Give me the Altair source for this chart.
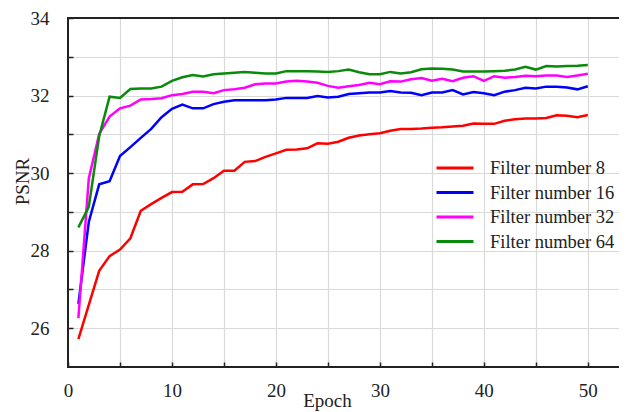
import altair as alt
import pandas as pd

FONT = "Liberation Serif"

epochs = list(range(1, 51))
series_names = ["Filter number 8", "Filter number 16", "Filter number 32", "Filter number 64"]
colors = ["#ff0000", "#0000ff", "#ff00ff", "#0a8a0a"]

psnr_8 = [25.72, 26.60, 27.48, 27.86, 28.03, 28.32, 29.03, 29.20, 29.36, 29.51,
          29.52, 29.71, 29.72, 29.87, 30.06, 30.06, 30.29, 30.31, 30.42, 30.51,
          30.60, 30.61, 30.64, 30.77, 30.76, 30.81, 30.91, 30.97, 31.00, 31.03,
          31.09, 31.14, 31.14, 31.15, 31.17, 31.18, 31.20, 31.22, 31.28, 31.27,
          31.27, 31.35, 31.39, 31.41, 31.41, 31.42, 31.49, 31.48, 31.44, 31.50]
psnr_16 = [26.63, 28.74, 29.71, 29.79, 30.44, 30.67, 30.91, 31.14, 31.44, 31.66,
           31.77, 31.67, 31.67, 31.78, 31.84, 31.88, 31.88, 31.88, 31.88, 31.90,
           31.94, 31.94, 31.94, 31.99, 31.95, 31.97, 32.04, 32.06, 32.08, 32.08,
           32.12, 32.08, 32.07, 32.01, 32.08, 32.08, 32.14, 32.03, 32.09, 32.06,
           32.01, 32.10, 32.14, 32.20, 32.18, 32.23, 32.23, 32.21, 32.16, 32.24]
psnr_32 = [26.26, 29.86, 31.01, 31.46, 31.67, 31.74, 31.90, 31.91, 31.93, 32.01,
           32.04, 32.10, 32.10, 32.06, 32.14, 32.16, 32.20, 32.29, 32.31, 32.31,
           32.36, 32.38, 32.36, 32.33, 32.25, 32.20, 32.24, 32.27, 32.33, 32.29,
           32.37, 32.36, 32.42, 32.45, 32.38, 32.43, 32.37, 32.46, 32.50, 32.38,
           32.50, 32.46, 32.48, 32.51, 32.50, 32.52, 32.52, 32.48, 32.52, 32.56]
psnr_64 = [28.60, 29.13, 30.95, 31.97, 31.94, 32.17, 32.18, 32.18, 32.23, 32.38,
           32.47, 32.53, 32.49, 32.55, 32.57, 32.59, 32.61, 32.59, 32.57, 32.57,
           32.63, 32.63, 32.63, 32.62, 32.61, 32.63, 32.67, 32.60, 32.55, 32.55,
           32.61, 32.57, 32.60, 32.68, 32.70, 32.69, 32.67, 32.62, 32.62, 32.62,
           32.63, 32.64, 32.67, 32.74, 32.67, 32.76, 32.75, 32.76, 32.77, 32.79]

x_ticks = list(range(0, 51, 5))
y_ticks = list(range(26, 35))

rows = []
for name, vals in zip(series_names, [psnr_8, psnr_16, psnr_32, psnr_64]):
    for e, v in zip(epochs, vals):
        rows.append({"Epoch": e, "PSNR": v, "Series": name})
df = pd.DataFrame(rows)

W, H = 551, 349

x_axis = alt.Axis(
    values=x_ticks,
    labelExpr="datum.value % 10 === 0 ? datum.label : ''",
    grid=True, gridColor="#d9d9d9", gridWidth=1.2,
    domain=False, offset=-5, tickSize=5, tickWidth=1.5, tickColor="#222",
    labelPadding=14, labelFontSize=19, labelFont=FONT, labelColor="#222",
    labelAngle=0, labelFlush=False,
    title="Epoch", titleX=259, titleY=44, titleBaseline="alphabetic",
    titleAlign="center", titleFontSize=19, titleFont=FONT,
    titleFontWeight="normal", titleColor="#222",
)
y_axis = alt.Axis(
    values=y_ticks,
    labelExpr="datum.value % 2 === 0 ? datum.label : ''",
    grid=True, gridColor="#d9d9d9", gridWidth=1.2,
    domain=False, offset=-5, tickSize=5, tickWidth=1.5, tickColor="#222",
    labelPadding=19, labelFontSize=19, labelFont=FONT, labelColor="#222",
    labelFlush=False,
    title="PSNR", titleX=-51, titleY=163, titleBaseline="middle",
    titleAlign="center", titleFontSize=19, titleFont=FONT,
    titleFontWeight="normal", titleColor="#222",
)

lines = alt.Chart(df).mark_line(strokeWidth=2.5, clip=True).encode(
    x=alt.X("Epoch:Q", scale=alt.Scale(domain=[0, 53], nice=False, zero=False), axis=x_axis),
    y=alt.Y("PSNR:Q", scale=alt.Scale(domain=[25, 34], nice=False, zero=False), axis=y_axis),
    color=alt.Color(
        "Series:N",
        scale=alt.Scale(domain=series_names, range=colors),
        sort=series_names,
        legend=alt.Legend(
            orient="none", legendX=376, legendY=139, title=None,
            symbolType="M-2,0H2", symbolSize=342, symbolStrokeWidth=3,
            labelFontSize=18.5, labelFont=FONT, labelColor="#222",
            labelOffset=24, rowPadding=3.5, padding=0, labelLimit=300,
        ),
    ),
)

frame_src = pd.DataFrame({"k": [0]})
frame_style = dict(color="#222", strokeWidth=2, strokeCap="square")
left_border = alt.Chart(frame_src).mark_rule(**frame_style).encode(
    x=alt.value(0), y=alt.value(0), y2=alt.value(H))
top_border = alt.Chart(frame_src).mark_rule(**frame_style).encode(
    x=alt.value(0), x2=alt.value(W), y=alt.value(0))
bottom_border = alt.Chart(frame_src).mark_rule(**frame_style).encode(
    x=alt.value(0), x2=alt.value(W), y=alt.value(H))

chart = alt.layer(lines, left_border, top_border, bottom_border).properties(
    width=W, height=H,
    padding={"left": 60, "top": 10, "right": 0, "bottom": 50},
    autosize=alt.AutoSizeParams(type="none"),
).configure_view(
    stroke=None,
).configure(background="white")

chart.save("out.html", embed_options={"renderer": "svg", "actions": False})
